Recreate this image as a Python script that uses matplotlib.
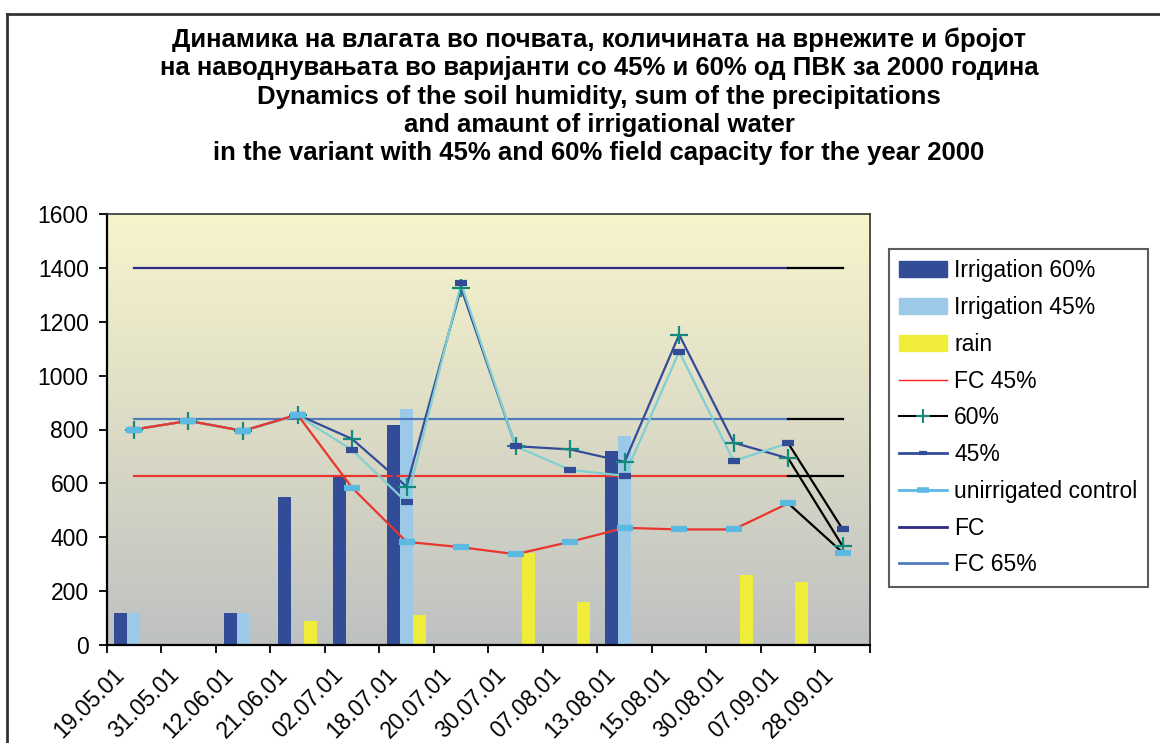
import matplotlib
matplotlib.use('Agg')
import matplotlib.pyplot as plt
import numpy as np
from matplotlib.patches import Patch
from matplotlib.lines import Line2D
from matplotlib.colors import LinearSegmentedColormap
from matplotlib.transforms import ScaledTranslation

plt.rcParams['font.family'] = ['Liberation Sans', 'DejaVu Sans']

# data
dates = ['19.05.01', '31.05.01', '12.06.01', '21.06.01', '02.07.01', '18.07.01', '20.07.01',
         '30.07.01', '07.08.01', '13.08.01', '15.08.01', '30.08.01', '07.09.01', '28.09.01']
irrigation_60 = [120, 0, 120, 550, 630, 815, 0, 0, 0, 720, 0, 0, 0, 0]
irrigation_45 = [120, 0, 120, 0, 0, 875, 0, 0, 0, 775, 0, 0, 0, 0]
rain = [0, 0, 0, 90, 0, 110, 0, 340, 160, 0, 0, 260, 235, 0]
soil_60 = [800, 832, 795, 855, 765, 588, 1325, 738, 726, 680, 1152, 751, 693, 366]
soil_45 = [800, 832, 795, 852, 724, 530, 1342, 738, 650, 628, 1089, 683, 749, 429]
control = [800, 832, 795, 855, 584, 383, 363, 337, 383, 435, 429, 429, 526, 343]
fc = [1400, 1400, 1400, 1400, 1400, 1400, 1400, 1400, 1400, 1400, 1400, 1400, 1400, 1400]
fc_65 = [840, 840, 840, 840, 840, 840, 840, 840, 840, 840, 840, 840, 840, 840]
fc_45 = [628, 628, 628, 628, 628, 628, 628, 628, 628, 628, 628, 628, 628, 628]

C_DARK = '#324C98'
C_LIGHT = '#9CC9E7'
C_YELLOW = '#F0EC3A'
C_RED = '#E8362C'
C_NAVY = '#2D2B85'
C_FC65 = '#4F7BBD'
C_CYAN = '#80CFD2'
C_TEAL = '#138A7C'
C_DASH = '#5BB9E2'

W, H = 1160, 743
fig = plt.figure(figsize=(W / 100, H / 100), dpi=100)
ax = fig.add_axes([106.7 / W, 1 - 645 / H, (870 - 106.7) / W, (645 - 214) / H])

x = np.arange(len(dates))
ax.set_xlim(-0.5, len(dates) - 0.5)
ax.set_ylim(0, 1600)

# plot area gradient
cmap = LinearSegmentedColormap.from_list('bg', ['#BEC1C1', '#DCDBC6', '#F7F5CC'])
grad = np.linspace(0, 1, 256).reshape(-1, 1)
ax.imshow(grad, extent=(-0.5, len(dates) - 0.5, 0, 1600), origin='lower',
          aspect='auto', cmap=cmap, zorder=0)

# bars
bw = 0.238
ax.bar(x - bw, irrigation_60, bw, color=C_DARK, zorder=2)
ax.bar(x, irrigation_45, bw, color=C_LIGHT, zorder=2)
ax.bar(x + bw, rain, bw, color=C_YELLOW, zorder=2)

# reference lines, last segment black like the original
for vals, col in [(fc, C_NAVY), (fc_65, C_FC65), (fc_45, C_RED)]:
    ax.plot(x[:-1], vals[:-1], color=col, lw=1.6, zorder=3)
    ax.plot(x[-2:], vals[-2:], color='black', lw=1.6, zorder=3)

# soil moisture series
series = [
    (soil_60, C_DARK, dict(marker='+', ms=13, mew=1.6, mec=C_TEAL)),
    (soil_45, C_CYAN, dict(marker='_', ms=9, mew=4.5, mec=C_DARK)),
    (control, C_RED, dict(marker='_', ms=12, mew=4.5, mec=C_DASH)),
]
for i, (vals, col, mk) in enumerate(series):
    ax.plot(x[:-1], vals[:-1], color=col, lw=1.6, zorder=4 + i)
    ax.plot(x[-2:], vals[-2:], color='black', lw=1.6, zorder=4 + i)
    ax.plot(x, vals, ls='none', zorder=7 + i, **mk)

# axes styling
for s in ax.spines.values():
    s.set_color('#333333')
    s.set_linewidth(1.2)
    s.set_zorder(10)
ax.spines['left'].set_color('black')
ax.spines['bottom'].set_color('black')
ax.spines['left'].set_linewidth(1.6)
ax.spines['bottom'].set_linewidth(1.6)

ax.set_yticks(np.arange(0, 1601, 200))
ax.tick_params(axis='y', direction='out', length=6, width=1.3, pad=7,
               labelsize=16.5, colors='black')
ax.set_xticks(x)
ax.set_xticklabels(dates, rotation=45, ha='right', rotation_mode='anchor')
ax.tick_params(axis='x', which='major', length=0, pad=13, labelsize=16.5)
ax.set_xticks(np.arange(-0.5, len(dates), 1), minor=True)
ax.tick_params(axis='x', which='minor', direction='out', length=6, width=1.3)
shift = ScaledTranslation(-21 / 100, 0, fig.dpi_scale_trans)
for lbl in ax.get_xticklabels():
    lbl.set_transform(lbl.get_transform() + shift)

# legend
handles = [
    Patch(color=C_DARK, label='Irrigation 60%'),
    Patch(color=C_LIGHT, label='Irrigation 45%'),
    Patch(color=C_YELLOW, label='rain'),
    Line2D([], [], color='#FF2020', lw=1.0, label='FC 45%'),
    Line2D([], [], color='black', lw=1.5, marker='+', ms=10, mew=1.5, mec=C_TEAL, label='60%'),
    Line2D([], [], color=C_DARK, lw=2, marker='_', ms=6, mew=3, mec=C_DARK, label='45%'),
    Line2D([], [], color=C_DASH, lw=2, marker='_', ms=9, mew=4, mec=C_DASH, label='unirrigated control'),
    Line2D([], [], color=C_NAVY, lw=2, label='FC'),
    Line2D([], [], color=C_FC65, lw=2, label='FC 65%'),
]
leg = ax.legend(handles=handles, loc='upper left', bbox_to_anchor=(889 / W, 1 - 249 / H),
                bbox_transform=fig.transFigure, borderaxespad=0, fontsize=16.5,
                frameon=True, fancybox=False, handlelength=2.1, handletextpad=0.3,
                labelspacing=0.6, borderpad=0.45)
leg.get_frame().set_edgecolor('#333333')
leg.get_frame().set_linewidth(1.5)

# title lines
title = [
    'Динамика на влагата во почвата, количината на врнежите и бројот',
    'на наводнувањата во варијанти со 45% и 60% од ПВК за 2000 година',
    'Dynamics of the soil humidity, sum of the precipitations',
    'and amaunt of irrigational water',
    'in the variant with 45% and 60% field capacity for the year 2000',
]
ys = [40, 68, 97, 125, 153]
for t, yy in zip(title, ys):
    fig.text(599 / W, 1 - yy / H, t, ha='center', va='center', fontsize=18.5,
             fontweight='bold')

# outer frame
fig.add_artist(Line2D([7 / W, 7 / W], [0, 1 - 14 / H], color='#333333', lw=2,
                      transform=fig.transFigure))
fig.add_artist(Line2D([7 / W, 1], [1 - 14 / H, 1 - 14 / H], color='#333333', lw=2,
                      transform=fig.transFigure))

fig.savefig('out.png', dpi=100)
